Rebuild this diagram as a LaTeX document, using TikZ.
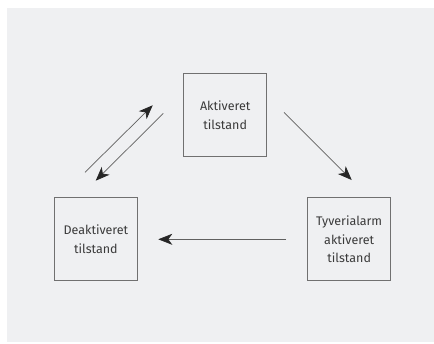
\documentclass[tikz,border=0pt]{standalone}
\usepackage{fontspec}
\setmainfont{Fira Sans}
\usetikzlibrary{arrows.meta}
\definecolor{bgc}{HTML}{EFF0F2}
\definecolor{boxc}{HTML}{707070}
\definecolor{linec}{HTML}{606060}
\definecolor{txtc}{HTML}{3A3A3A}
\begin{document}
\begin{tikzpicture}[x=1pt,y=-1pt,
  state/.style={draw=boxc,line width=0.8pt,minimum width=83pt,minimum height=83pt,
    inner sep=0pt,align=center,text=txtc,font=\fontsize{12.5}{18.5}\selectfont,anchor=north west},
  conn/.style={draw=linec,line width=0.7pt,-{Stealth[length=14pt,width=11pt,inset=4pt,color=black!85]}}]
\useasboundingbox (0,0) rectangle (434,343);
\fill[bgc] (7,8) rectangle (434,342);
\node[state] (akt) at (183.3,73.3) {Aktiveret\\tilstand};
\node[state] (deakt) at (54,197.3) {Deaktiveret\\tilstand};
\node[state] (tyv) at (307.3,197.3) {Tyverialarm\\aktiveret\\tilstand};
\coordinate (a1) at (85,172.3);
\coordinate (a2) at (152.7,105.3);
\coordinate (b1) at (163.3,113.3);
\coordinate (b2) at (95.7,180.7);
\coordinate (c1) at (284,112.3);
\coordinate (c2) at (351.7,180);
\coordinate (d1) at (286,239.3);
\coordinate (d2) at (158.3,239.3);
\draw[conn] (a1) -- (a2);
\draw[conn] (b1) -- (b2);
\draw[conn] (c1) -- (c2);
\draw[conn] (d1) -- (d2);
\end{tikzpicture}
\end{document}
